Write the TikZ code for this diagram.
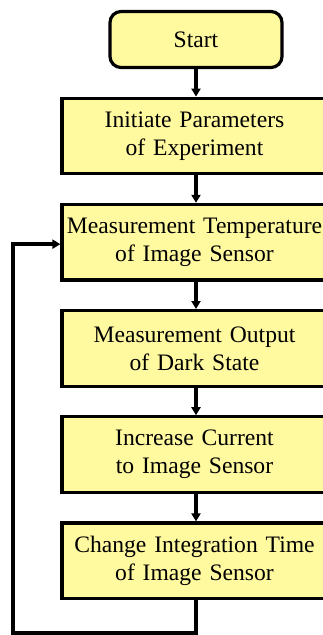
\documentclass[tikz,border=0pt]{standalone}
\usetikzlibrary{arrows.meta, positioning}
\usepackage{xcolor}
\usepackage{fontspec}
\setmainfont{Liberation Serif}
\definecolor{boxfill}{RGB}{255,249,160}

\begin{document}
\begin{tikzpicture}[node distance=27.5pt]
    \tikzstyle{stepnode}=[rectangle, draw=black, fill=boxfill, line width=3.2pt, minimum width=265pt, minimum height=75.5pt, text width=262pt, align=center, font=\fontsize{23.6}{28}\selectfont, inner sep=0pt]
    \tikzstyle{startnode}=[stepnode, rounded corners=11pt, minimum width=172pt, minimum height=56pt, text width=160pt]
    \tikzstyle{flow}=[draw=black, line width=3.4pt, -{Triangle[length=8pt,width=9pt]}]

    \useasboundingbox (0,0) rectangle (323pt,-635pt);

    \node[startnode] (start) at (196pt,-39.5pt) {Start};
    \node[stepnode, below=of start, xshift=-1.5pt] (init) {Initiate Parameters\\of Experiment};
    \node[stepnode, below=of init] (temp) {Measurement Temperature\\of Image Sensor};
    \node[stepnode, below=of temp] (dark) {Measurement Output\\of Dark State};
    \node[stepnode, below=of dark] (curr) {Increase Current\\to Image Sensor};
    \node[stepnode, below=of curr] (integ) {Change Integration Time\\of Image Sensor};

    \draw[flow] (start) -- (start |- init.north);
    \draw[flow] (start |- init.south) -- (start |- temp.north);
    \draw[flow] (start |- temp.south) -- (start |- dark.north);
    \draw[flow] (start |- dark.south) -- (start |- curr.north);
    \draw[flow] (start |- curr.south) -- (start |- integ.north);

%   loop back to the temperature step
    \draw[flow] (start |- integ.south) -- ++(0,-33pt) -| ([xshift=-47.5pt,yshift=-2pt]temp.west) -- ([yshift=-2pt]temp.west);
\end{tikzpicture}
\end{document}
